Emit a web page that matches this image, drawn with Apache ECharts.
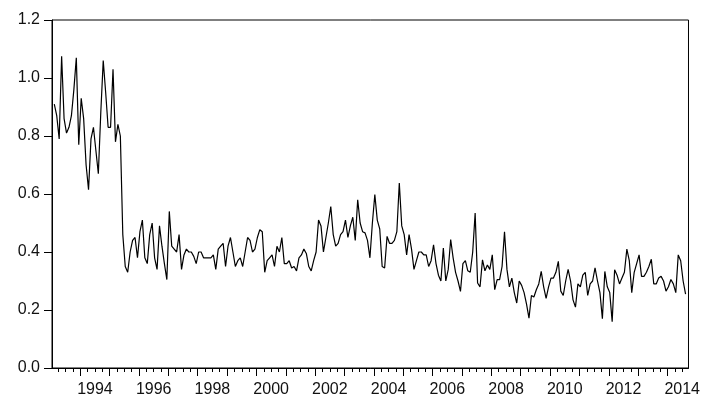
<!DOCTYPE html>
<html>
<head>
<meta charset="utf-8">
<script src="https://cdn.jsdelivr.net/npm/echarts@6/dist/echarts.min.js"></script>
<style>
  html, body { margin: 0; padding: 0; background: #fff; }
  #chart { width: 703px; height: 398px; }
</style>
</head>
<body>
<div id="chart"></div>
<script>
// monthly observations, first one a little after the start of 1993
const START = 1993.115
const values = [
  0.91, 0.87, 0.79, 1.075, 0.86, 0.81, 0.83, 0.87, 0.96, 1.07,
  0.77, 0.93, 0.86, 0.70, 0.615, 0.79, 0.83, 0.75, 0.67, 0.88,
  1.06, 0.95, 0.83, 0.83, 1.03, 0.78, 0.84, 0.80, 0.46,
  0.35, 0.33, 0.40, 0.44, 0.45, 0.38, 0.47, 0.51, 0.38, 0.36,
  0.46, 0.50, 0.38, 0.34, 0.49, 0.42, 0.36, 0.305, 0.54, 0.42,
  0.41, 0.40, 0.46, 0.34, 0.39, 0.41, 0.40, 0.40, 0.385, 0.36,
  0.40, 0.40, 0.38, 0.38, 0.38, 0.38, 0.39, 0.34, 0.41, 0.42,
  0.43, 0.35, 0.42, 0.45, 0.40, 0.35, 0.37, 0.38, 0.35, 0.40,
  0.45, 0.44, 0.40, 0.41, 0.45, 0.477, 0.47, 0.33,
  0.37, 0.38, 0.39, 0.35, 0.42, 0.40, 0.45, 0.36, 0.36, 0.37,
  0.345, 0.35, 0.335, 0.38, 0.39, 0.41, 0.395, 0.35, 0.335, 0.37,
  0.40, 0.51, 0.49, 0.40, 0.45, 0.50, 0.557, 0.46, 0.42, 0.43,
  0.46, 0.47, 0.51, 0.45, 0.49, 0.52, 0.44, 0.58, 0.50, 0.47,
  0.466, 0.44, 0.38, 0.50, 0.598, 0.51, 0.48, 0.35, 0.345, 0.454,
  0.43, 0.43, 0.44, 0.47, 0.638, 0.49, 0.46, 0.39, 0.46, 0.41,
  0.34, 0.37, 0.40, 0.40, 0.39, 0.39, 0.35, 0.37, 0.425, 0.36,
  0.32, 0.30, 0.414, 0.30, 0.34, 0.443, 0.38, 0.33, 0.30, 0.264,
  0.36, 0.37, 0.335, 0.33, 0.40, 0.534,
  0.293, 0.28, 0.373, 0.335, 0.355, 0.34, 0.39, 0.27, 0.305, 0.305,
  0.35, 0.47, 0.34, 0.28, 0.31, 0.26, 0.224, 0.30, 0.285, 0.26,
  0.22, 0.172, 0.25, 0.245, 0.27, 0.29, 0.333, 0.28, 0.24, 0.28,
  0.31, 0.31, 0.33, 0.368, 0.265, 0.25, 0.30, 0.34, 0.30, 0.235,
  0.21, 0.29, 0.28, 0.32, 0.33, 0.25, 0.29, 0.30, 0.345, 0.30,
  0.26, 0.17, 0.333, 0.28, 0.26, 0.16, 0.339, 0.32, 0.29, 0.31,
  0.33, 0.41, 0.37, 0.26, 0.33, 0.36, 0.39, 0.316, 0.316, 0.33,
  0.35, 0.375, 0.29, 0.29, 0.31, 0.316, 0.30, 0.265, 0.28, 0.305,
  0.29, 0.26, 0.39, 0.37, 0.30, 0.255
]
const yearTicks = [1994, 1995, 1996, 1997, 1998, 1999, 2000, 2001, 2002, 2003, 2004,
  2005, 2006, 2007, 2008, 2009, 2010, 2011, 2012, 2013, 2014]
const labelYears = [1994, 1996, 1998, 2000, 2002, 2004, 2006, 2008, 2010, 2012, 2014]

const XMIN = 1993.037
const XMAX = 2014.714

// quarter ticks between the year ticks
const quarterTicks = []
for (let y = 1993; y <= 2014; y++) {
  ;[0.25, 0.5, 0.75].forEach(q => {
    if (y + q > XMIN && y + q < XMAX) quarterTicks.push(y + q)
  })
}

const font = { fontFamily: 'Liberation Sans, Arial, sans-serif', fontSize: 16, color: '#111' }

const chart = echarts.init(document.getElementById('chart'))
chart.setOption({
  animation: false,
  grid: {
    left: 52,
    right: 14,
    top: 20,
    bottom: 30,
    show: true,
    borderColor: '#000',
    borderWidth: 1,
  },
  xAxis: [
    {
      type: 'value',
      min: XMIN,
      max: XMAX,
      axisLine: { show: true, lineStyle: { color: '#000', width: 1 } },
      axisTick: { show: true, length: 8, customValues: yearTicks, lineStyle: { color: '#000' } },
      axisLabel: {
        ...font,
        margin: 14,
        customValues: labelYears.map(y => y + 0.5),
        formatter: v => String(Math.floor(v)),
      },
      splitLine: { show: false },
    },
    {
      type: 'value',
      position: 'bottom',
      min: XMIN,
      max: XMAX,
      axisLine: { show: false },
      axisTick: { show: true, length: 4, customValues: quarterTicks, lineStyle: { color: '#000' } },
      axisLabel: { show: false },
      splitLine: { show: false },
    },
  ],
  yAxis: {
    type: 'value',
    min: 0,
    max: 1.2,
    interval: 0.2,
    axisLine: { show: true, lineStyle: { color: '#000', width: 1 } },
    axisTick: { show: true, length: 8, lineStyle: { color: '#000' } },
    axisLabel: { ...font, margin: 12, formatter: v => v.toFixed(1) },
    splitLine: { show: false },
  },
  series: [
    {
      type: 'line',
      xAxisIndex: 0,
      showSymbol: false,
      data: values.map((v, i) => [START + i / 12, v]),
      lineStyle: { color: '#000', width: 1.2 },
    },
  ],
})
</script>
</body>
</html>
